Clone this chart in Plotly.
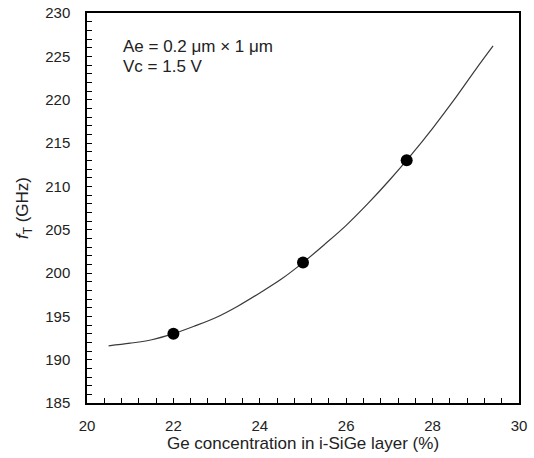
import plotly.graph_objects as go

# Measured points
ge_conc = [22.0, 25.0, 27.4]
ft_ghz = [193.0, 201.2, 213.0]

# Fitted trend curve
curve_x = [20.5, 21.0, 21.5, 22.0, 22.5, 23.0, 23.5, 24.0, 24.5, 25.0, 25.5,
           26.0, 26.5, 27.0, 27.5, 28.0, 28.5, 29.0, 29.4]
curve_y = [191.6, 191.9, 192.3, 193.0, 193.9, 194.9, 196.2, 197.7, 199.3, 201.2, 203.3,
           205.5, 208.0, 210.7, 213.6, 216.7, 220.0, 223.5, 226.2]

x_ticks = [20, 22, 24, 26, 28, 30]
y_ticks = [185, 190, 195, 200, 205, 210, 215, 220, 225, 230]

FONT = "Liberation Sans, Arial, sans-serif"
TXT = "#222222"

fig = go.Figure()
fig.add_trace(go.Scatter(x=curve_x, y=curve_y, mode="lines",
                         line=dict(color="#3a3a3a", width=1.2, shape="spline"),
                         hoverinfo="skip", showlegend=False))
fig.add_trace(go.Scatter(x=ge_conc, y=ft_ghz, mode="markers",
                         marker=dict(color="black", size=12),
                         showlegend=False))

fig.update_xaxes(range=[20, 30], tickvals=x_ticks, ticks="inside", ticklen=5,
                 tickcolor="black", tickwidth=1, automargin=False,
                 ticklabeloverflow="allow", ticklabelstandoff=8,
                 minor=dict(dtick=0.4, ticks="inside", ticklen=5, tickcolor="black", showgrid=False),
                 showline=True, linecolor="black", linewidth=1.5, mirror=True,
                 showgrid=False, zeroline=False,
                 tickfont=dict(size=15, color=TXT),
                 title=dict(text="Ge concentration in i-SiGe layer (%)",
                            font=dict(size=17, color=TXT), standoff=0))
fig.update_yaxes(range=[185, 230], tickvals=y_ticks, ticks="inside", ticklen=5,
                 tickcolor="black", tickwidth=1, automargin=False,
                 ticklabeloverflow="allow", ticklabelstandoff=12,
                 minor=dict(dtick=1, ticks="inside", ticklen=5, tickcolor="black", showgrid=False),
                 showline=True, linecolor="black", linewidth=1.5, mirror=True,
                 showgrid=False, zeroline=False,
                 tickfont=dict(size=15, color=TXT),
                 title=dict(text="<i>f</i><sub>T</sub> (GHz)",
                            font=dict(size=17, color=TXT), standoff=12))

fig.add_annotation(x=0.079, y=0.915, xref="paper", yref="paper", xanchor="left", yanchor="middle",
                   align="left", showarrow=False, text="Ae = 0.2 μm × 1 μm",
                   font=dict(size=17, color=TXT, family=FONT))
fig.add_annotation(x=0.079, y=0.862, xref="paper", yref="paper", xanchor="left", yanchor="middle",
                   align="left", showarrow=False, text="Vc = 1.5 V",
                   font=dict(size=17, color=TXT, family=FONT))

fig.update_layout(width=534, height=458,
                  margin=dict(l=87, r=15, t=13, b=55),
                  paper_bgcolor="white", plot_bgcolor="white",
                  font=dict(family=FONT, size=15, color=TXT))

fig.write_html("out.html", config={"displayModeBar": False},
               post_script="document.body.style.margin='0';document.body.style.overflow='hidden';")
